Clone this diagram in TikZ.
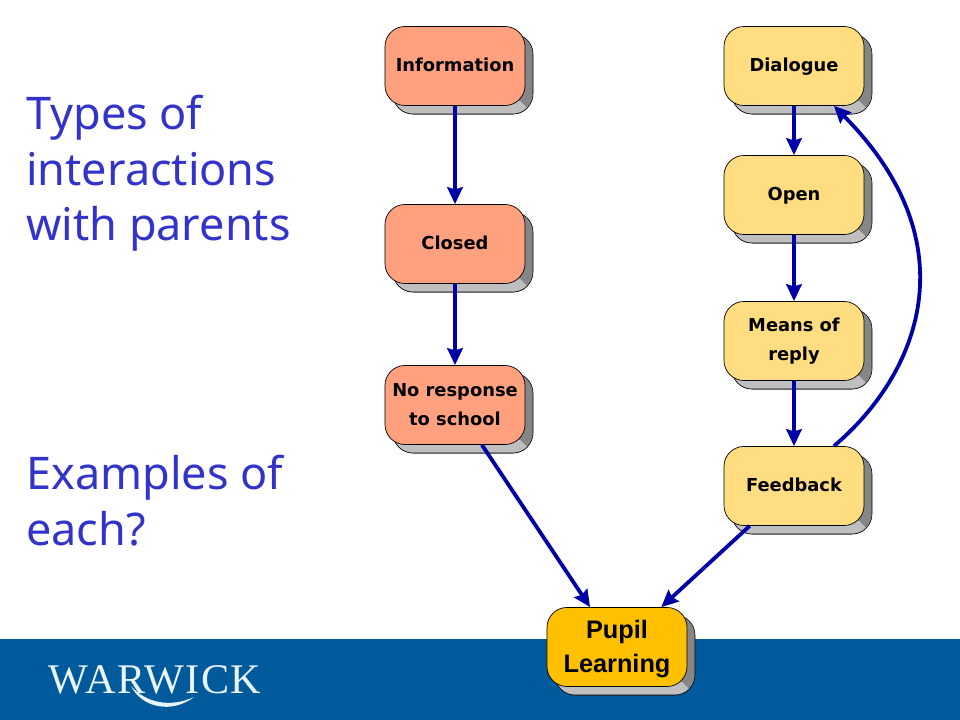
\documentclass[tikz,border=0pt]{standalone}
\usepackage{fontspec}
\setmainfont{DejaVu Sans}
\newfontfamily\titlefont{Noto Sans}
\newfontfamily\pupilfont{Liberation Sans}
\newfontfamily\logofont[LetterSpace=3.5]{Liberation Serif}
\usetikzlibrary{arrows.meta}
\definecolor{bandblue}{HTML}{005A9C}
\definecolor{titleblue}{HTML}{3333CC}
\definecolor{arrowblue}{HTML}{0000A8}
\definecolor{salmon}{HTML}{FFA07F}
\definecolor{paleyellow}{HTML}{FFDD80}
\definecolor{amber}{HTML}{FFC000}
\definecolor{logowhite}{HTML}{E8F4FA}
\tikzset{
  flowbox/.style={draw=black,line width=0.5pt,rounded corners=0.5cm,minimum width=3.5cm,minimum height=1.975cm,inner sep=0pt,align=center,text=black,font=\bfseries\fontsize{12.7}{20.6}\selectfont},
  oneline/.style={text height=10.5pt,text depth=3.3pt},
  flowline/.style={draw=arrowblue,line width=2.7pt,-{Stealth[length=12pt,width=11pt,inset=1.5pt]}},
  titletext/.style={anchor=north west,inner sep=0pt,align=left,text=titleblue,font=\titlefont\fontsize{32}{39.5}\selectfont}
}
\begin{document}
\begin{tikzpicture}[x=0.025cm,y=-0.025cm,line join=round]
	\useasboundingbox (0,0) rectangle (960,720);
	\fill[bandblue] (0,639) rectangle (960,720);
	\node[titletext] (types) at (26,95) {Types of\\interactions\\with parents};
	\node[titletext] (examples) at (26,455) {Examples of\\each?};
	\node[inner sep=0pt,text=logowhite,font=\logofont\fontsize{30}{30}\selectfont] (warwick) at (155,680) {WARWICK};
	\fill[logowhite] (131,686) .. controls (142,708) and (172,714) .. (194,697) .. controls (170,708) and (146,703) .. (131,686);
	\foreach \x/\y in {455/66,455/244,455/405,794/66,794/195,794/341,794/486,617/647}{
		\draw[rounded corners=0.5cm,fill=gray!95] (\x-62,\y-32) rectangle (\x+78,\y+48);
		\begin{scope}
			\clip (\x-80,\y+60) -- (\x+90,\y+60) -- (\x+65,\y+35) -- (\x-80,\y+35) -- cycle;
			\draw[rounded corners=0.5cm,fill=lightgray] (\x-62,\y-32) rectangle (\x+78,\y+48);
		\end{scope}
	}
	\node[flowbox,oneline,fill=salmon] (information) at (455,66) {Information};
	\node[flowbox,oneline,fill=salmon] (closed) at (455,244) {Closed};
	\node[flowbox,fill=salmon] (noresponse) at (455,405) {No response\\to school};
	\node[flowbox,oneline,fill=paleyellow] (dialogue) at (794,66) {Dialogue};
	\node[flowbox,oneline,fill=paleyellow] (open) at (794,195) {Open};
	\node[flowbox,fill=paleyellow] (means) at (794,341) {Means of\\reply};
	\node[flowbox,oneline,fill=paleyellow] (feedback) at (794,486) {Feedback};
	\node[flowbox,fill=amber,font=\pupilfont\bfseries\fontsize{18}{23.8}\selectfont] (pupil) at (617,647) {\rule{0pt}{15.8pt}Pupil\\Learning};
	\draw[flowline] (information) -- (closed);
	\draw[flowline] (closed) -- (noresponse);
	\draw[flowline] (dialogue) -- (open);
	\draw[flowline] (open) -- (means);
	\draw[flowline] (means) -- (feedback);
	\draw[flowline] (noresponse.-56) -- (pupil.124);
	\draw[flowline] (feedback.222) -- (pupil.42);
	\draw[flowline] (feedback.45) .. controls (918,375) and (972,245) .. (dialogue.-45);
\end{tikzpicture}
\end{document}
